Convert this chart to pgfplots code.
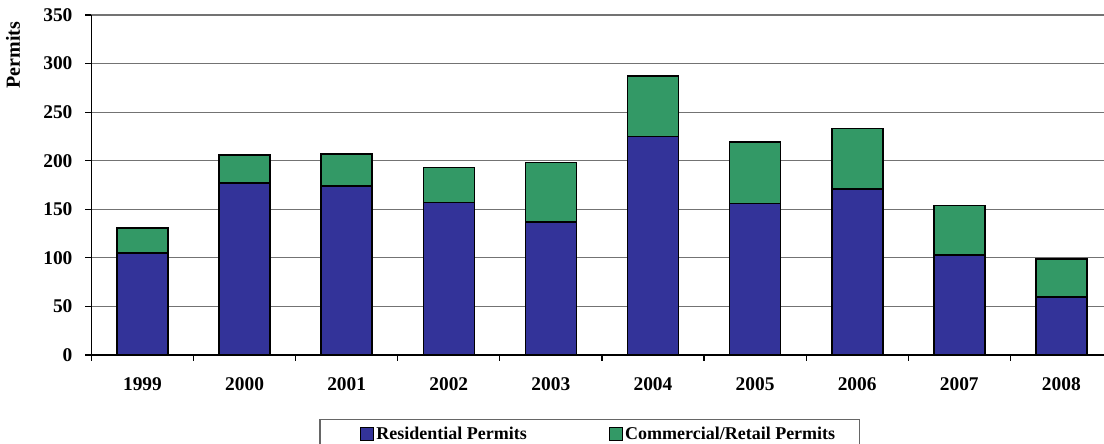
\documentclass[border=0pt]{standalone}
\usepackage{pgfplots}
\pgfplotsset{compat=1.18}
\usepackage{fontspec}
\setmainfont{Liberation Serif}
\definecolor{resblue}{HTML}{333399}
\definecolor{comgreen}{HTML}{339966}
\pgfplotsset{
  sqlegend/.style={legend image code/.code={\draw[##1,line width=0.6pt] (0pt,-3.25pt) rectangle (6.5pt,3.25pt);}},
  firstlegend/.style={legend image code/.code={\path (-9pt,0); \draw[##1,line width=0.6pt] (0pt,-3.25pt) rectangle (6.5pt,3.25pt);}},
}
\begin{document}
\begin{tikzpicture}
\begin{axis}[
  scale only axis, width=506.25pt, height=170pt,
  ybar stacked, bar width=0.5,
  xmin=-0.5, xmax=9.417, ymin=0, ymax=350,
  ytick={0,50,...,350},
  xtick={-0.5,0.5,...,8.5},
  xticklabels={1999,2000,2001,2002,2003,2004,2005,2006,2007,2008},
  xticklabel style={xshift=25.5pt, yshift=-5pt},
  yticklabel style={xshift=-3pt},
  axis x line*=bottom, axis y line*=left,
  axis line style={black, line width=0.8pt},
  tick style={black, line width=0.6pt},
  tick align=outside, major tick length=3pt,
  ymajorgrids, grid style={black!55, line width=0.6pt},
  /pgf/number format/assume math mode=true,
  ticklabel style={font=\bfseries\fontsize{9.7}{11}\selectfont},
  ylabel={Permits},
  ylabel style={at={(axis description cs:-0.0775,0.882)}, anchor=center, font=\bfseries\fontsize{10}{11}\selectfont},
  legend columns=2,
  legend style={at={(0.492,-0.188)}, anchor=north, draw=black!60, line width=0.6pt,
    font=\bfseries\fontsize{9}{10}\selectfont, inner xsep=11pt, inner ysep=1.5pt,
    nodes={inner xsep=1pt},
    /tikz/every even column/.append style={column sep=40pt}},
  sqlegend,
]
\addplot[fill=resblue, draw=black, line width=0.8pt, firstlegend] coordinates {
(0,105) (1,177) (2,174) (3,157) (4,137) (5,225) (6,156) (7,171) (8,103) (9,60)};
\addlegendentry{Residential Permits}
\addplot[fill=comgreen, draw=black, line width=0.8pt] coordinates {
(0,26) (1,29) (2,33) (3,36) (4,61) (5,62) (6,63) (7,62) (8,51) (9,39)};
\addlegendentry{Commercial/Retail Permits}
\end{axis}
\pgfresetboundingbox
\path[use as bounding box] (-45.75pt,-44.5pt) rectangle (506.25pt,177.5pt);
\end{tikzpicture}
\end{document}
